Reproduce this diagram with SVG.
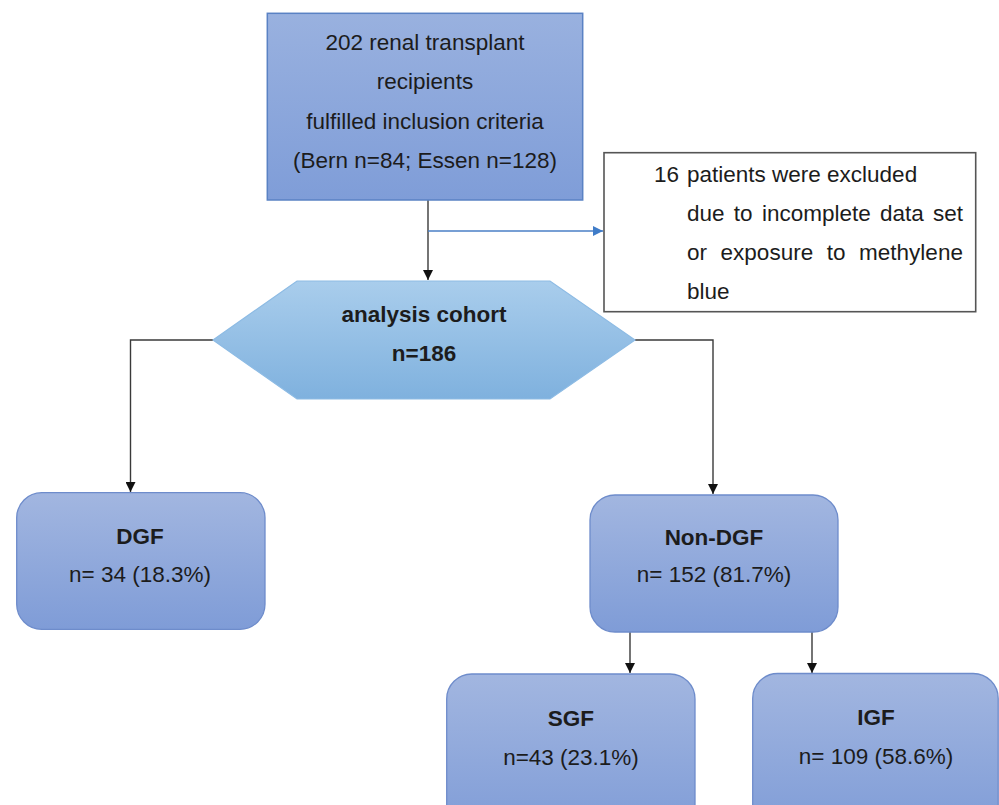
<svg xmlns="http://www.w3.org/2000/svg" width="999" height="805" viewBox="0 0 999 805">
<style>
text{font-family:"Liberation Sans",Arial,sans-serif;font-size:22.5px;fill:#1c1c1c}
.c{text-anchor:middle}
.b{font-weight:bold}
.ln{fill:none;stroke:#3a3a3a;stroke-width:1.4}
.bl{fill:none;stroke:#4a7fc6;stroke-width:1.4}
.rb{fill:url(#gBox);stroke:#6e8ccb;stroke-width:1.3}
</style>
<defs>
<linearGradient id="gBox" x1="0" y1="0" x2="0" y2="1">
<stop offset="0" stop-color="#a2b6e0"/>
<stop offset="1" stop-color="#7f9cd7"/>
</linearGradient>
<linearGradient id="gTop" x1="0" y1="0" x2="0" y2="1">
<stop offset="0" stop-color="#99b1df"/>
<stop offset="1" stop-color="#7f9dd8"/>
</linearGradient>
<linearGradient id="gHex" x1="0" y1="0" x2="0" y2="1">
<stop offset="0" stop-color="#a9cdec"/>
<stop offset="1" stop-color="#7fb1de"/>
</linearGradient>
<marker id="ah" viewBox="0 0 10 10" refX="10" refY="5" markerWidth="10" markerHeight="10" markerUnits="userSpaceOnUse" orient="auto">
<path d="M0,0 L10,5 L0,10 z" fill="#111"/>
</marker>
<marker id="ahb" viewBox="0 0 10 10" refX="10" refY="5" markerWidth="10" markerHeight="10" markerUnits="userSpaceOnUse" orient="auto">
<path d="M0,0 L10,5 L0,10 z" fill="#3f7cc8"/>
</marker>
</defs>
<rect width="999" height="805" fill="#fff"/>
<g id="connectors">
<path class="ln" d="M428,200 V280" marker-end="url(#ah)"/>
<path class="bl" d="M428,231 H603" marker-end="url(#ahb)"/>
<path class="ln" d="M213,340 H130.5 V492" marker-end="url(#ah)"/>
<path class="ln" d="M635,340 H713 V494" marker-end="url(#ah)"/>
<path class="ln" d="M630,632 V673" marker-end="url(#ah)"/>
<path class="ln" d="M812,632 V673" marker-end="url(#ah)"/>
</g>
<g id="n_start">
<rect x="267.3" y="13.3" width="315.4" height="186.7" fill="url(#gTop)" stroke="#5a82c4" stroke-width="1.5"/>
<text class="c" x="425" y="49.5">202 renal transplant</text>
<text class="c" x="425" y="89">recipients</text>
<text class="c" x="425" y="128.5">fulfilled inclusion criteria</text>
<text class="c" x="425" y="168">(Bern n=84; Essen n=128)</text>
</g>
<g id="n_excluded">
<rect x="604" y="152.7" width="371.7" height="159" fill="#fff" stroke="#555" stroke-width="1.6"/>
<text x="654" y="182">16</text>
<text x="687" y="182">patients were excluded</text>
<text y="221"><tspan x="687">due</tspan><tspan x="733.8">to</tspan><tspan x="761.9">incomplete</tspan><tspan x="880">data</tspan><tspan x="933.1">set</tspan></text>
<text y="260"><tspan x="687">or</tspan><tspan x="720.6">exposure</tspan><tspan x="826.7">to</tspan><tspan x="859.1">methylene</tspan></text>
<text x="687" y="299">blue</text>
</g>
<g id="n_cohort">
<polygon points="213,340 297,281 550,281 635,340 550,399 297,399" fill="url(#gHex)" stroke="#8dbbe4" stroke-width="1.2"/>
<text class="c b" x="424" y="322">analysis cohort</text>
<text class="c b" x="424" y="361">n=186</text>
</g>
<g id="n_dgf">
<rect class="rb" x="16.7" y="492.7" width="248.3" height="136.6" rx="25"/>
<text class="c b" x="140" y="543.5">DGF</text>
<text class="c" x="140" y="582">n= 34 (18.3%)</text>
</g>
<g id="n_nondgf">
<rect class="rb" x="590" y="495" width="248" height="137" rx="25"/>
<text class="c b" x="714" y="545">Non-DGF</text>
<text class="c" x="714" y="582">n= 152 (81.7%)</text>
</g>
<g id="n_sgf">
<rect class="rb" x="446.7" y="674" width="248.3" height="160" rx="25"/>
<text class="c b" x="571" y="726">SGF</text>
<text class="c" x="571" y="765">n=43 (23.1%)</text>
</g>
<g id="n_igf">
<rect class="rb" x="752.7" y="673.5" width="245.5" height="160" rx="25"/>
<text class="c b" x="876" y="725">IGF</text>
<text class="c" x="876" y="764">n= 109 (58.6%)</text>
</g>
</svg>
